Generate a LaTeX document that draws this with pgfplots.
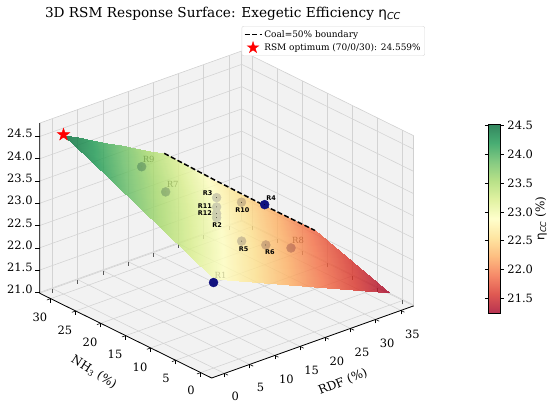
\documentclass[border=0pt]{standalone}
\usepackage{pgfplots}
\pgfplotsset{compat=1.18}
\usetikzlibrary{calc}
\usepackage{fontspec}
\setmainfont{DejaVu Serif}
\newfontfamily\dvs{DejaVu Sans}
\newcommand{\etacc}{{\dvs η}\textsubscript{\dvs\itshape CC}}
\definecolor{navyc}{RGB}{18,18,128}
\pgfdeclareplotmark{fstar}{%
  \pgfpathmoveto{\pgfqpointpolar{90}{\pgfplotmarksize}}%
  \pgfpathlineto{\pgfqpointpolar{126}{0.382\pgfplotmarksize}}%
  \pgfpathlineto{\pgfqpointpolar{162}{\pgfplotmarksize}}%
  \pgfpathlineto{\pgfqpointpolar{198}{0.382\pgfplotmarksize}}%
  \pgfpathlineto{\pgfqpointpolar{234}{\pgfplotmarksize}}%
  \pgfpathlineto{\pgfqpointpolar{270}{0.382\pgfplotmarksize}}%
  \pgfpathlineto{\pgfqpointpolar{306}{\pgfplotmarksize}}%
  \pgfpathlineto{\pgfqpointpolar{342}{0.382\pgfplotmarksize}}%
  \pgfpathlineto{\pgfqpointpolar{18}{\pgfplotmarksize}}%
  \pgfpathlineto{\pgfqpointpolar{54}{0.382\pgfplotmarksize}}%
  \pgfpathclose\pgfusepathqfillstroke}
\pgfplotsset{colormap={rdylgn}{rgb255=(165,0,38) rgb255=(215,48,39) rgb255=(244,109,67) rgb255=(253,174,97) rgb255=(254,224,139) rgb255=(255,255,191) rgb255=(217,239,139) rgb255=(166,217,106) rgb255=(102,189,99) rgb255=(26,152,80) rgb255=(0,104,55)}}
\pgfplotsset{colormap={rdylgnA}{rgb255=(183,51,81) rgb255=(223,89,82) rgb255=(246,138,105) rgb255=(253,190,129) rgb255=(254,230,162) rgb255=(255,255,204) rgb255=(225,242,162) rgb255=(184,225,136) rgb255=(133,202,130) rgb255=(72,173,115) rgb255=(51,134,95)}}
\begin{document}
\begin{tikzpicture}
\useasboundingbox (-39.7bp,-31bp) rectangle ++(550bp,409bp);
\begin{axis}[
  at={(0,0)}, anchor=south west,
  view={-40.4}{24.8},
  plot box ratio={1}{1}{0.706},
  scale only axis, width=374bp, height=327bp,
  xmin=-2.55, xmax=37.55, ymin=-2.19, ymax=32.19, zmin=20.98, zmax=24.8,
  xtick={0,5,10,15,20,25,30,35}, ytick={0,5,10,15,20,25,30},
  ztick={21,21.5,22,22.5,23,23.5,24,24.5},
  xtick pos=left, ytick pos=left, ztick pos=left,
  ztick style={draw=none},
  grid=major, grid style={gray!40, line width=0.6bp},
  axis line style={gray!40, line width=0.6bp},
  tick style={black, line width=0.6bp}, major tick length=4bp, tick align=outside,
  colormap name=rdylgn, point meta min=21.24, point meta max=24.53,
  clip=false, clip marker paths=true,
  /pgf/number format/assume math mode=true,
  ticklabel style={font=\fontsize{11.5}{13}\selectfont},
  xticklabel style={xshift=2bp, yshift=-13bp},
  yticklabel style={yshift=-8bp},
  zticklabel style={/pgf/number format/fixed, /pgf/number format/fixed zerofill, /pgf/number format/precision=1},
]
% panes
\addplot3[fill=gray!25, fill opacity=0.4, draw=none] coordinates {(-2.55,-2.19,20.98) (37.55,-2.19,20.98) (37.55,32.19,20.98) (-2.55,32.19,20.98)};
\addplot3[fill=gray!25, fill opacity=0.4, draw=none] coordinates {(-2.55,32.19,20.98) (37.55,32.19,20.98) (37.55,32.19,24.8) (-2.55,32.19,24.8)};
\addplot3[fill=gray!25, fill opacity=0.4, draw=none] coordinates {(37.55,-2.19,20.98) (37.55,32.19,20.98) (37.55,32.19,24.8) (37.55,-2.19,24.8)};
\draw[black, line width=0.8bp] (axis cs:37.55,-2.19,20.98) -- (axis cs:-2.55,-2.19,20.98) -- (axis cs:-2.55,32.19,20.98) -- (axis cs:-2.55,32.19,24.8);
\pgfplotsinvokeforeach{21,21.5,22,22.5,23,23.5,24,24.5}{\draw[black, line width=0.6bp] (axis cs:-2.55,32.19,#1) -- ++(-5bp,0bp);}
\coordinate (F) at (axis cs:-2.55,-2.19,20.98);
% points below the surface
\addplot3[only marks, mark=*, mark size=4.5bp, mark options={fill=navyc, draw=navyc}] table {
x y z
15.5 15 22.90
15.5 15 23.35
15.5 10 22.65
20.3 10 22.37
10.35 20 23.41
25.3 10 22.10
10.55 25 23.69
25.4 20 22.57
15.5 15 23.14
15.5 15 22.99
};
% faded labels (below the surface)
\addplot3[only marks, mark=*, mark size=0.1bp, mark options={draw=none, fill=none},
  nodes near coords, point meta=explicit symbolic,
  every node near coord/.append style={anchor=base west, xshift=1bp, yshift=4bp, inner sep=0pt, text=black, font=\fontsize{8.5}{10}\selectfont}]
  table[meta=lab] {
x y z lab
0 0 22.90 R1
10.35 20 23.41 R7
25.3 10 22.10 R8
10.55 25 23.69 R9
};
% response surface
\addplot3[surf, shader=interp, opacity=0.8, point meta=z] table {
x y z
0 0 22.970
5 0 22.723
10 0 22.476
15 0 22.229
20 0 21.982
25 0 21.735
30 0 21.488
35 0 21.241

0 5 23.235
5 5 22.978
10 5 22.721
15 5 22.464
20 5 22.207
25 5 21.950
30 5 21.693
35 5 21.436

0 10 23.500
5 10 23.233
10 10 22.966
15 10 22.699
20 10 22.432
25 10 22.165
30 10 21.898
35 10 21.631

0 15 23.765
5 15 23.488
10 15 23.211
15 15 22.934
20 15 22.657
25 15 22.380
30 15 22.103
35 15 21.826

0 20 24.030
4.286 20 23.784
8.571 20 23.538
12.857 20 23.292
17.143 20 23.046
21.429 20 22.800
25.714 20 22.554
30 20 22.308

0 25 24.295
3.571 25 24.083
7.143 25 23.871
10.714 25 23.659
14.286 25 23.446
17.857 25 23.234
21.429 25 23.022
25 25 22.810

0 30 24.560
2.857 30 24.385
5.714 30 24.209
8.571 30 24.034
11.429 30 23.858
14.286 30 23.683
17.143 30 23.507
20 30 23.332
};
% Coal = 50 % boundary
\addplot3[black, line width=1.5bp, dash pattern=on 5bp off 2.5bp] coordinates {(20,30,23.332) (25,25,22.810) (30,20,22.308) (35,15,21.826)};
% points above the surface
\addplot3[only marks, mark=*, mark size=4.5bp, mark options={fill=navyc, draw=navyc}] coordinates {(0,0,22.90) (30,20,22.33)};
% bold labels
\addplot3[only marks, mark=*, mark size=0.1bp, mark options={draw=none, fill=none},
  nodes near coords, point meta=explicit symbolic,
  visualization depends on={value \thisrow{anc}\as\anc},
  visualization depends on={value \thisrow{dx}\as\dx},
  visualization depends on={value \thisrow{dy}\as\dy},
  every node near coord/.append style={anchor=\anc, xshift=\dx bp, yshift=\dy bp, inner sep=0pt, text=black, font=\dvs\bfseries\fontsize{6.5}{8}\selectfont}]
  table[meta=lab] {
x y z lab anc dx dy
15.5 15 22.90 R2 north 0.5 -5
15.5 15 23.35 R3 east -4 4
30 20 22.33 R4 west 1.5 6.5
15.5 10 22.65 R5 north 2 -5.5
20.3 10 22.37 R6 north 4 -5
25.4 20 22.57 R10 north 1 -5
15.5 15 23.14 R11 east -4.5 1
15.5 15 22.99 R12 east -4.5 0.5
};
% RSM optimum
\addplot3[only marks, mark=fstar, mark size=6.5bp, mark options={fill=red, draw=red}] coordinates {(0,30,24.559)};
\end{axis}
\coordinate (O) at ($(F)+(-211.7bp,-31bp)$);
% colorbar and legend
\begin{axis}[
  at={(O)}, anchor=south west, scale only axis, width=550bp, height=409bp,
  hide axis, xmin=0, xmax=550, ymin=0, ymax=409,
  colormap name=rdylgnA, point meta min=21.24, point meta max=24.53,
  colorbar,
  colorbar style={at={($(O)+(480bp,285bp)$)}, anchor=north west, scale only axis, width=12bp, height=189bp,
    ytick={21.5,22,22.5,23,23.5,24,24.5}, tick align=outside, major tick length=3.5bp,
    tick style={black, line width=0.6bp}, axis line style={black, line width=0.6bp},
    /pgf/number format/assume math mode=true,
    yticklabel style={font=\fontsize{11.5}{13}\selectfont, /pgf/number format/fixed, /pgf/number format/fixed zerofill, /pgf/number format/precision=1}},
  legend style={at={(0.7727,0.9364)}, anchor=north east, font=\fontsize{9}{11}\selectfont, draw=gray!30, rounded corners=2bp, inner sep=2bp, row sep=1bp},
  legend cell align=left,
]
\addlegendimage{black, line width=1.5bp, dash pattern=on 5bp off 2.5bp}
\addlegendentry{Coal=50\% boundary}
\addlegendimage{only marks, mark=fstar, mark size=6bp, mark options={fill=red, draw=red}}
\addlegendentry{RSM optimum (70/0/30): 24.559\%}
\addplot[draw=none, forget plot] coordinates {(0,0)};
\end{axis}
\node[anchor=base, font=\fontsize{13.7}{16}\selectfont] at ($(O)+(223bp,391.5bp)$) {3D RSM Response Surface: Exegetic Efficiency \etacc};
\node[rotate=22, font=\fontsize{12}{14}\selectfont] at ($(O)+(343bp,27bp)$) {RDF (\%)};
\node[rotate=-32, font=\fontsize{12}{14}\selectfont] at ($(O)+(94bp,37bp)$) {NH\textsubscript{3} (\%)};
\node[rotate=90, font=\fontsize{12}{14}\selectfont] at ($(O)+(541bp,190.5bp)$) {\etacc\ (\%)};
\end{tikzpicture}
\end{document}
